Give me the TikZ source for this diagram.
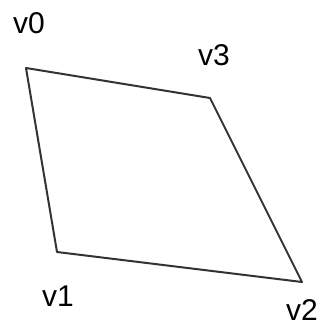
\documentclass[tikz,border=0pt]{standalone}
\usepackage{fontspec}
\setmainfont{Liberation Sans}
\begin{document}
\begin{tikzpicture}[x=1pt,y=-1pt,
  edge/.style={draw=black!80, line width=2pt, line join=round},
  lbl/.style={font=\fontsize{30}{32}\selectfont, text=black, inner sep=0pt}]
\useasboundingbox (0,0) rectangle (325,327);
\fill[white] (0,0) rectangle (325,327);
\coordinate (v0) at (26,68);
\coordinate (v3) at (210,98);
\coordinate (v2) at (302,282);
\coordinate (v1) at (57,252);
\draw[edge] (v0) -- (v3) -- (v2) -- (v1) -- cycle;
\node[lbl] (l0) at (29,23) {v0};
\node[lbl] (l3) at (214,55) {v3};
\node[lbl] (l1) at (58,296) {v1};
\node[lbl] (l2) at (302,310) {v2};
\end{tikzpicture}
\end{document}
